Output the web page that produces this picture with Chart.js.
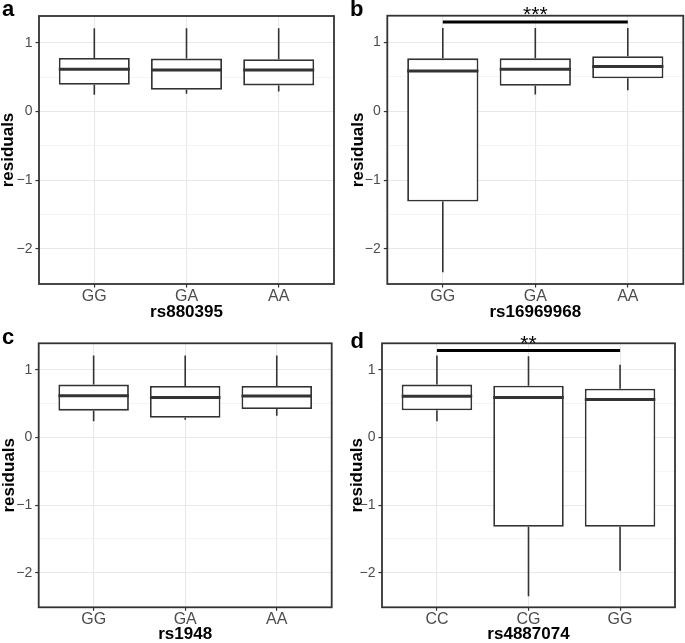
<!DOCTYPE html>
<html>
<head>
<meta charset="utf-8">
<title>residuals by genotype</title>
<script src="https://cdn.jsdelivr.net/npm/chart.js@4.4.0/dist/chart.umd.min.js"></script>
<style>
  body { margin: 0; background: #fff; }
  #wrap { position: relative; width: 685px; height: 643px; font-family: "Liberation Sans", Arial, sans-serif; }
  .panel { position: absolute; }
  .tag { position: absolute; font-weight: bold; font-size: 22px; line-height: 1; color: #000; }
</style>
</head>
<body>
<div id="wrap">
  <div class="panel" style="left:0;top:0"><canvas id="pa" width="345" height="322"></canvas></div>
  <div class="panel" style="left:345px;top:0"><canvas id="pb" width="340" height="322"></canvas></div>
  <div class="panel" style="left:0;top:322px"><canvas id="pc" width="345" height="321"></canvas></div>
  <div class="panel" style="left:345px;top:322px"><canvas id="pd" width="340" height="321"></canvas></div>
  <div class="tag" style="left:2px;top:-1.6px">a</div>
  <div class="tag" style="left:350px;top:-1.9px">b</div>
  <div class="tag" style="left:2px;top:326.4px">c</div>
  <div class="tag" style="left:350.5px;top:329.7px">d</div>
</div>
<script>
// shared y axis
const yTicks = [-2, -1.5, -1, -0.5, 0, 0.5, 1];
const yMin = -2.51;
const yMax = 1.39;

// panel a: rs880395
const catsA = ['GG', 'GA', 'AA'];
const lowA = [0.245, 0.26, 0.29];
const q1A = [0.39, 0.315, 0.38];
const medA = [0.615, 0.605, 0.605];
const q3A = [0.78, 0.77, 0.76];
const highA = [1.21, 1.21, 1.21];

// panel b: rs16969968
const catsB = ['GG', 'GA', 'AA'];
const lowB = [-2.34, 0.245, 0.305];
const q1B = [-1.31, 0.37, 0.48];
const medB = [0.585, 0.61, 0.65];
const q3B = [0.77, 0.77, 0.80];
const highB = [1.21, 1.21, 1.21];
const sigB = [0, 2, 1.30, '***'];

// panel c: rs1948
const catsC = ['GG', 'GA', 'AA'];
const lowC = [0.24, 0.26, 0.32];
const q1C = [0.395, 0.29, 0.42];
const medC = [0.616, 0.59, 0.61];
const q3C = [0.78, 0.76, 0.76];
const highC = [1.21, 1.21, 1.21];

// panel d: rs4887074
const catsD = ['CC', 'CG', 'GG'];
const lowD = [0.24, -2.345, -1.97];
const q1D = [0.40, -1.32, -1.32];
const medD = [0.607, 0.59, 0.56];
const q3D = [0.78, 0.764, 0.72];
const highD = [1.21, 1.197, 1.074];
const sigD = [0, 2, 1.285, '**'];

const INK = '#333333';
const FONT = '"Liberation Sans", Arial, sans-serif';

// whiskers, medians, panel border and significance bar
const boxParts = {
    id: 'boxParts',
    afterDatasetsDraw: function(chart) {
        const ctx = chart.ctx;
        const y = chart.scales.y;
        const ds = chart.data.datasets[0];
        const meta = chart.getDatasetMeta(0);
        ctx.save();
        ctx.strokeStyle = INK;
        meta.data.forEach((bar, i) => {
            const p = bar.getProps(['x', 'width'], true);
            ctx.lineWidth = 1.6;
            ctx.beginPath();
            ctx.moveTo(p.x, y.getPixelForValue(ds.high[i]));
            ctx.lineTo(p.x, y.getPixelForValue(ds.data[i].y[1]));
            ctx.moveTo(p.x, y.getPixelForValue(ds.data[i].y[0]));
            ctx.lineTo(p.x, y.getPixelForValue(ds.low[i]));
            ctx.stroke();
            ctx.lineWidth = 3;
            ctx.beginPath();
            const ym = y.getPixelForValue(ds.med[i]);
            ctx.moveTo(p.x - p.width / 2, ym);
            ctx.lineTo(p.x + p.width / 2, ym);
            ctx.stroke();
        });
        ctx.restore();
    },
    afterDraw: function(chart) {
        const ctx = chart.ctx;
        const a = chart.chartArea;
        const x = chart.scales.x;
        const y = chart.scales.y;
        const sig = chart.data.datasets[0].sig;
        ctx.save();
        ctx.strokeStyle = INK;
        ctx.lineWidth = 1.8;
        ctx.strokeRect(a.left, a.top, a.right - a.left, a.bottom - a.top);
        if (sig) {
            const x0 = x.getPixelForValue(sig[0]);
            const x1 = x.getPixelForValue(sig[1]);
            const yy = y.getPixelForValue(sig[2]);
            ctx.strokeStyle = '#000';
            ctx.lineWidth = 3;
            ctx.beginPath();
            ctx.moveTo(x0, yy);
            ctx.lineTo(x1, yy);
            ctx.stroke();
            ctx.fillStyle = '#000';
            ctx.font = '21px ' + FONT;
            ctx.textAlign = 'center';
            ctx.textBaseline = 'alphabetic';
            ctx.fillText(sig[3], (x0 + x1) / 2, yy - 0.5);
        }
        ctx.restore();
    }
};

function isMajor(c) {
    return c.tick && Number.isInteger(c.tick.value);
}

function makePanel(id, cats, low, q1, med, q3, high, xTitle, sig, lay) {
    const data = cats.map((c, i) => ({ x: i, y: [q1[i], q3[i]] }));
    new Chart(document.getElementById(id), {
        type: 'bar',
        data: {
            datasets: [{
                data: data,
                low: low,
                med: med,
                high: high,
                sig: sig,
                backgroundColor: '#ffffff',
                borderColor: INK,
                borderWidth: 1.8,
                borderSkipped: false,
                categoryPercentage: 1,
                barPercentage: 0.77
            }]
        },
        options: {
            responsive: false,
            animation: false,
            devicePixelRatio: 1,
            layout: { padding: { left: lay[0], top: lay[1], right: lay[2], bottom: lay[3] } },
            plugins: { legend: { display: false }, tooltip: { enabled: false } },
            scales: {
                x: {
                    type: 'linear',
                    min: -0.6,
                    max: 2.6,
                    offset: false,
                    afterBuildTicks: s => { s.ticks = cats.map((c, i) => ({ value: i })); },
                    afterFit: s => { s.height = lay[5]; },
                    border: { display: false },
                    grid: { offset: false, color: '#e8e8e8', lineWidth: 1.1, tickColor: INK, tickLength: 3.5, tickWidth: 1.2 },
                    ticks: {
                        callback: v => cats[v],
                        color: '#4d4d4d',
                        padding: 0,
                        maxRotation: 0,
                        autoSkip: false,
                        font: { family: FONT, size: 16, lineHeight: 1.1 }
                    },
                    title: {
                        display: true,
                        text: xTitle,
                        color: '#000',
                        padding: 0,
                        font: { family: FONT, size: 17, weight: 'bold', lineHeight: 1 }
                    }
                },
                y: {
                    min: yMin,
                    max: yMax,
                    afterBuildTicks: s => { s.ticks = yTicks.map(v => ({ value: v })); },
                    afterFit: s => { s.width = lay[4]; },
                    border: { display: false },
                    grid: {
                        color: c => isMajor(c) ? '#e8e8e8' : '#f1f1f1',
                        lineWidth: c => isMajor(c) ? 1.1 : 0.8,
                        tickColor: c => isMajor(c) ? INK : 'rgba(0,0,0,0)',
                        tickLength: 3.5,
                        tickWidth: 1.2
                    },
                    ticks: {
                        callback: v => Number.isInteger(v) ? (v < 0 ? '\u2212' + Math.abs(v) : String(v)) : '',
                        color: '#4d4d4d',
                        padding: 3,
                        autoSkip: false,
                        font: { family: FONT, size: 14 }
                    },
                    title: {
                        display: true,
                        text: 'residuals',
                        color: '#000',
                        padding: 0,
                        font: { family: FONT, size: 17, weight: 'bold', lineHeight: 1 }
                    }
                }
            }
        },
        plugins: [boxParts]
    });
}

// layout: [padLeft, padTop, padRight, padBottom, yAxisWidth, xAxisHeight]
makePanel('pa', catsA, lowA, q1A, medA, q3A, highA, 'rs880395', null, [0, 16, 11, 1, 39, 37]);
makePanel('pb', catsB, lowB, q1B, medB, q3B, highB, 'rs16969968', sigB, [4.5, 15.7, 1.7, 1, 37.8, 37]);
makePanel('pc', catsC, lowC, q1C, medC, q3C, highC, 'rs1948', null, [0.7, 21.3, 13.3, 0, 38, 35.7]);
makePanel('pd', catsD, lowD, q1D, medD, q3D, highD, 'rs4887074', sigD, [3.7, 21.3, 10, 0, 33.3, 35.7]);
</script>
</body>
</html>
